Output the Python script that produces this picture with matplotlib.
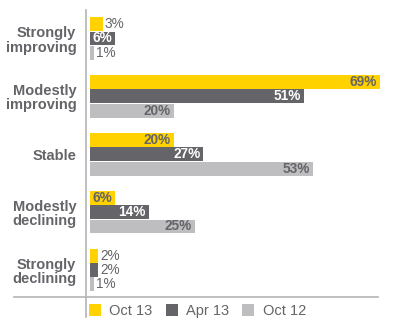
import matplotlib
matplotlib.use("Agg")
import matplotlib.pyplot as plt
from matplotlib.lines import Line2D
import numpy as np

plt.rcParams['font.family'] = ['Liberation Sans', 'DejaVu Sans']

# datos
categorias = ["Strongly\nimproving", "Modestly\nimproving", "Stable",
              "Modestly\ndeclining", "Strongly\ndeclining"]
series = ["Oct 13", "Apr 13", "Oct 12"]
oct13 = [3, 69, 20, 6, 2]
apr13 = [6, 51, 27, 14, 2]
oct12 = [1, 20, 53, 25, 1]

colores = ["#FFD200", "#646469", "#BEBEC0"]
texto_dentro = ["#646469", "#FFFFFF", "#646469"]
gris = "#646469"
linea = "#B4B4B6"

W, H = 400, 334
fig = plt.figure(figsize=(W / 100, H / 100), dpi=100)

# ejes: borde izquierdo en 86 px, barras empiezan en 90 px, 4.2 px por %
px_pct = 4.2
ax_left, ax_right = 86, 395
ax_top, ax_bottom = 10, 297
ax = fig.add_axes([ax_left / W, (H - ax_bottom) / H,
                   (ax_right - ax_left) / W, (ax_bottom - ax_top) / H])
ax.set_xlim(-(90 - ax_left) / px_pct, (ax_right - 90) / px_pct)

paso = 57.9
centro0 = 38.5
ax.set_ylim((ax_bottom - centro0) / paso, (ax_top - centro0) / paso)

alto = 14.3 / paso
y = np.arange(len(categorias))
valores = [oct13, apr13, oct12]

for i, vals in enumerate(valores):
    pos = y + (i - 1) * alto
    ax.barh(pos, vals, height=alto * 0.97, color=colores[i], linewidth=0)
    for p, v in zip(pos, vals):
        if v >= 6:
            ax.text(v - 0.7, p, f"{v}%", ha="right", va="center",
                    fontsize=9.8, fontweight="bold", color=texto_dentro[i])
        else:
            ax.text(v + 0.5, p, f"{v}%", ha="left", va="center",
                    fontsize=9.8, color=gris)

ax.set_yticks(y)
ax.set_yticklabels(categorias, fontsize=10.5, fontweight="bold", color=gris,
                   linespacing=1.05)
ax.tick_params(axis="y", length=0, pad=7)
ax.set_xticks([])
for s in ax.spines.values():
    s.set_visible(False)

# lineas del marco
fig.add_artist(Line2D([ax_left / W, ax_left / W], [(H - 10) / H, (H - 317) / H],
                      color=linea, linewidth=1.2))
fig.add_artist(Line2D([14 / W, 378 / W], [(H - 297) / H, (H - 297) / H],
                      color=linea, linewidth=1.2))

# leyenda
handles = [Line2D([], [], marker="s", linestyle="none", markersize=8,
                  markerfacecolor=c, markeredgewidth=0) for c in colores]
fig.legend(handles, series, loc="center left", ncol=3, frameon=False,
           bbox_to_anchor=(89 / W, (H - 311) / H), fontsize=10.5,
           labelcolor=gris, handlelength=0.8, handletextpad=0.6,
           columnspacing=0.9, borderpad=0, borderaxespad=0)

fig.savefig("out.png", dpi=100)
